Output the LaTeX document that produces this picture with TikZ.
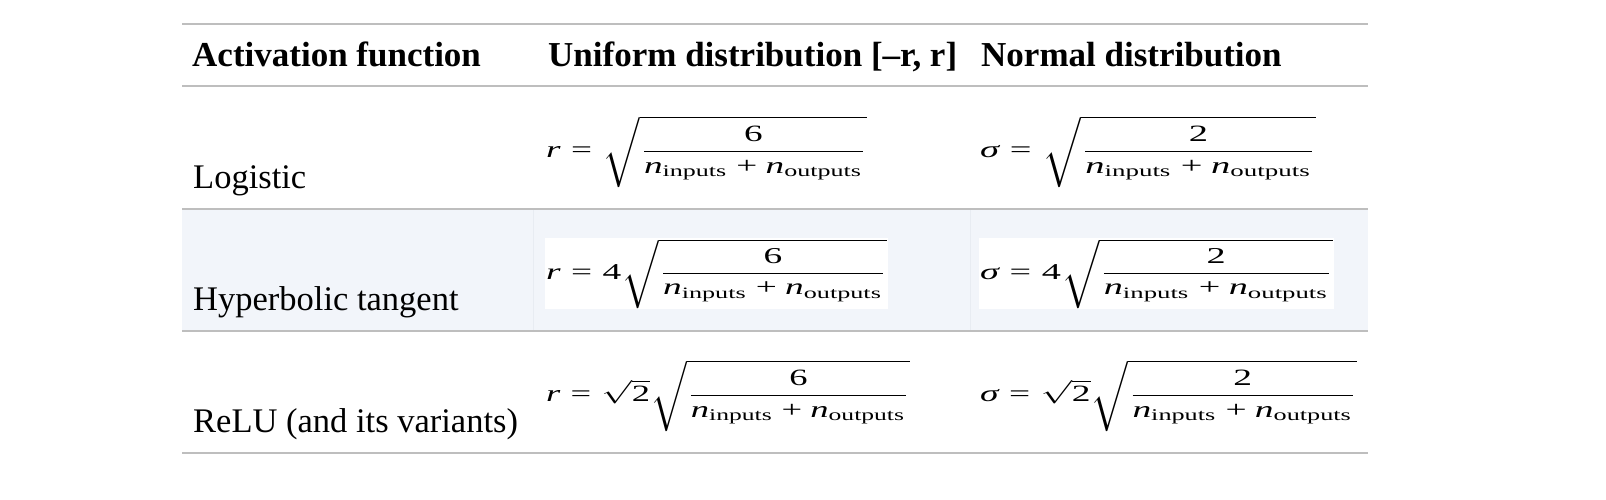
\documentclass[tikz,border=0pt]{standalone}
\usepackage{amsmath}
\usepackage[no-math]{fontspec}
\setmainfont{Liberation Serif}
\usepackage{graphicx}
\definecolor{rulegray}{HTML}{BEBEBE}
\definecolor{rowbg}{HTML}{F2F5FA}
\definecolor{cellline}{HTML}{E8ECF2}
\newcommand{\tv}[1]{\text{\itshape #1}}
\newcommand{\tr}[1]{\text{\upshape #1}}
\newcommand{\teq}{\mathrel{\tr{=}}}
\newcommand{\tplus}{\mathbin{\tr{+}}}
\newcommand{\radpart}[1]{\sqrt{\dfrac{\tr{#1}}{\tv{n}_{\tr{inputs}}\tplus\tv{n}_{\tr{outputs}}}}}
\begin{document}
\begin{tikzpicture}[x=1pt,y=-1pt,
  hrule/.style={draw=rulegray,line width=2.5pt},
  headtxt/.style={anchor=base west,inner sep=0pt,font=\fontsize{35}{40}\selectfont\bfseries},
  bodytxt/.style={anchor=base west,inner sep=0pt,font=\fontsize{34.5}{40}\selectfont},
  fml/.style={anchor=north west,inner sep=0pt},
  fmlw/.style={anchor=north west,inner sep=1pt,fill=white}]
\useasboundingbox (0,0) rectangle (1606,500);
% shaded row
\fill[rowbg] (182,209) rectangle (1368,331);
\draw[cellline,line width=1pt] (533,210) -- (533,330);
\draw[cellline,line width=1pt] (970,210) -- (970,330);
% rules
\coordinate (l0a) at (182,24);  \coordinate (l0b) at (1368,24);
\coordinate (l1a) at (182,86);  \coordinate (l1b) at (1368,86);
\coordinate (l2a) at (182,209); \coordinate (l2b) at (1368,209);
\coordinate (l3a) at (182,331); \coordinate (l3b) at (1368,331);
\coordinate (l4a) at (182,453); \coordinate (l4b) at (1368,453);
\draw[hrule] (l0a) -- (l0b);
\draw[hrule] (l1a) -- (l1b);
\draw[hrule] (l2a) -- (l2b);
\draw[hrule] (l3a) -- (l3b);
\draw[hrule] (l4a) -- (l4b);
% header
\node[headtxt] (h1) at (192,67) {Activation function};
\node[headtxt] (h2) at (548,67) {Uniform distribution [--r, r]};
\node[headtxt] (h3) at (981,67) {Normal distribution};
% first column
\node[bodytxt] (c1) at (193,188) {Logistic};
\node[bodytxt] (c2) at (193,310) {Hyperbolic tangent};
\node[bodytxt] (c3) at (193,432) {ReLU (and its variants)};
% formulas
\node[fml] (u1) at (546,116) {\resizebox*{321pt}{71pt}{$\tv{r}\teq\radpart{6}$}};
\node[fml] (s1) at (980,116) {\resizebox*{336pt}{71pt}{$\tv{σ}\teq\radpart{2}$}};
\node[fmlw] (u2) at (545,238) {\resizebox*{341pt}{69pt}{$\tv{r}\teq\tr{4}\radpart{6}$}};
\node[fmlw] (s2) at (979,238) {\resizebox*{353pt}{69pt}{$\tv{σ}\teq\tr{4}\radpart{2}$}};
\node[fml] (u3) at (546,360) {\resizebox*{364pt}{71pt}{$\tv{r}\teq\sqrt{\tr{2}}\radpart{6}$}};
\node[fml] (s3) at (980,360) {\resizebox*{377pt}{71pt}{$\tv{σ}\teq\sqrt{\tr{2}}\radpart{2}$}};
\end{tikzpicture}
\end{document}
